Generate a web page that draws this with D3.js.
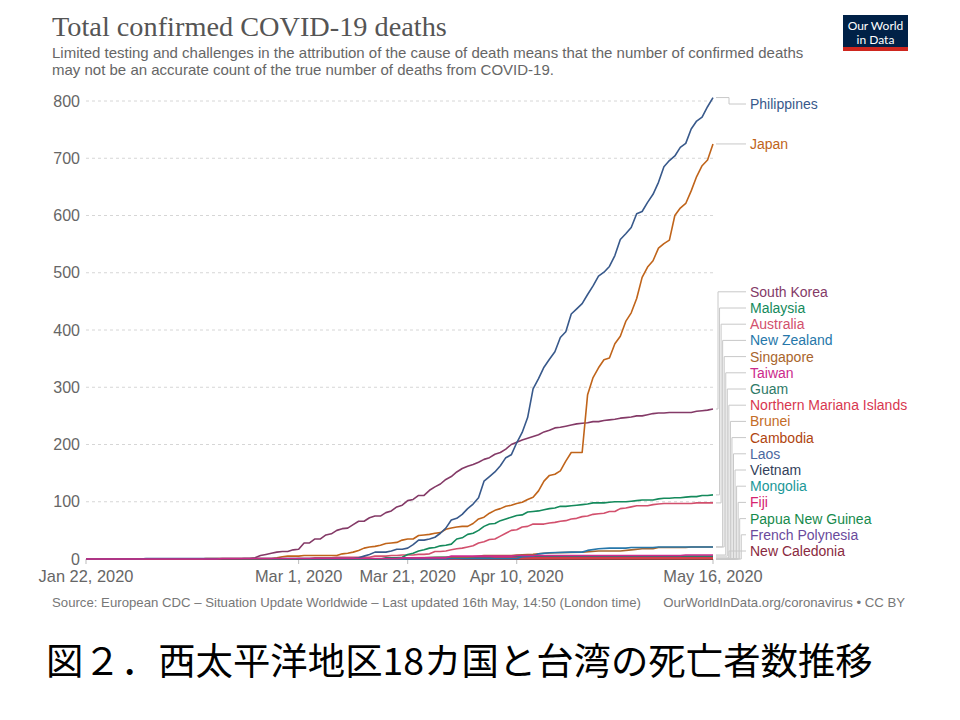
<!DOCTYPE html>
<html>
<head>
<meta charset="utf-8">
<script src="https://cdn.jsdelivr.net/npm/d3@7"></script>
<style>
  body { margin: 0; background: #fff; }
  svg { display: block; }
</style>
</head>
<body>
<div id="chart"></div>
<script>
// data (deaths, 2020)
const countries = [
  "Philippines", "Japan", "South Korea", "Malaysia", "Australia", "New Zealand",
  "Singapore", "Taiwan", "Guam", "Northern Mariana Islands", "Brunei", "Cambodia",
  "Laos", "Vietnam", "Mongolia", "Fiji", "Papua New Guinea", "French Polynesia",
  "New Caledonia"
];

const xTicks = ["2020-01-22", "2020-03-01", "2020-03-21", "2020-04-10", "2020-05-16"];
const yTicks = [0, 100, 200, 300, 400, 500, 600, 700, 800];

// daily runs: start date + values
const philippinesDaily = [
  1, 2, 5, 8, 12, 12, 12, 14, 17, 17, 19, 25, 33, 33, 35, 38, 45, 54, 68, 71, 78,
  88, 96, 107, 136, 144, 152, 163, 177, 182, 203, 221, 247, 297, 315, 335, 349, 362, 387, 397,
  428, 437, 446, 462, 477, 494, 501, 511, 530, 558, 568,
  579, 603, 607, 623, 637, 658, 685, 696, 704, 719, 726, 751, 765, 772, 790, 806
];
const japanDaily = [
  2, 4, 5, 5,
  5, 6, 6, 6, 6, 6, 6, 6, 9, 10, 12, 15, 19, 21, 22, 24, 27, 28, 29, 33, 35, 35, 41, 42, 43,
  45, 46, 52, 54, 56, 57,
  57, 62, 70, 73, 80, 85, 88, 92, 94, 97, 99, 104, 108, 119, 136, 146, 148, 154, 171, 186,
  186, 186, 287, 317, 334, 348, 351, 376, 389, 415,
  430, 455, 492, 510, 521, 543, 551, 557, 600, 613, 621, 643, 668, 687, 697, 725
];
const southKoreaDaily = [
  1, 1, 2, 6, 8, 10, 12, 13, 13, 16,
  17, 28, 28, 35, 35, 42, 44, 50, 53, 54, 60, 66, 66, 72, 75, 75, 81, 84, 91, 94, 102, 104,
  111, 111, 120, 126, 131, 139, 144, 152, 158,
  162, 165, 169, 174, 177, 183, 186, 192, 200, 204, 208, 211, 214, 217, 222, 225, 229, 230,
  232, 234, 236, 237, 238, 240, 240, 242, 243, 244, 246, 247,
  248, 250, 250, 252, 254, 255, 255, 256, 256, 256, 256, 256, 258, 259, 260, 262
];
const malaysiaDaily = [
  2, 2, 2, 3, 8, 10, 14, 16, 19, 20, 23, 24, 26, 35, 37,
  43, 45, 50, 57, 61, 62, 67, 70, 73, 76, 77, 82, 83, 84, 86, 88, 89, 92, 92, 93, 94, 95,
  96, 98, 98, 98, 99, 100, 100, 100,
  101, 102, 103, 103, 103, 105, 106, 106, 107, 107, 108, 109, 109, 111, 111, 112
];
const australiaDaily = [
  1, 1, 1, 2, 2, 2, 2, 3, 3, 3, 3, 3, 3, 3, 5, 5, 5, 6, 6, 7, 7, 7, 8, 8, 9, 13, 13, 14,
  16, 18, 19,
  21, 23, 28, 30, 34, 35, 40, 45, 50, 51, 56, 57, 61, 61, 61, 63, 64, 66, 67, 70, 71, 74,
  75, 78, 79, 80, 83, 83, 88, 89,
  91, 93, 93, 93, 95, 96, 97, 97, 97, 97, 97, 97, 98, 98, 98, 98
];

// sparse runs: [date, value] where the count changes
const newZealand = [["2020-01-22", 0], ["2020-03-28", 0], ["2020-03-29", 1], ["2020-04-10", 1],
  ["2020-04-11", 4], ["2020-04-13", 5], ["2020-04-14", 9], ["2020-04-16", 11], ["2020-04-20", 12],
  ["2020-04-22", 12], ["2020-04-23", 15], ["2020-04-25", 18], ["2020-04-27", 19], ["2020-04-30", 19],
  ["2020-05-01", 20], ["2020-05-05", 20], ["2020-05-06", 21], ["2020-05-16", 21]];
const singapore = [["2020-01-22", 0], ["2020-03-20", 0], ["2020-03-21", 2], ["2020-04-01", 3],
  ["2020-04-04", 6], ["2020-04-09", 6], ["2020-04-10", 7], ["2020-04-13", 8], ["2020-04-15", 10],
  ["2020-04-17", 11], ["2020-04-22", 12], ["2020-04-25", 14], ["2020-04-29", 14], ["2020-05-01", 16],
  ["2020-05-03", 18], ["2020-05-05", 18], ["2020-05-06", 20], ["2020-05-11", 20], ["2020-05-12", 21],
  ["2020-05-16", 21]];
const taiwan = [["2020-01-22", 0], ["2020-02-15", 0], ["2020-02-16", 1], ["2020-03-19", 1],
  ["2020-03-20", 2], ["2020-03-28", 2], ["2020-03-29", 5], ["2020-04-09", 5], ["2020-04-10", 6],
  ["2020-05-10", 6], ["2020-05-11", 7], ["2020-05-16", 7]];
const guam = [["2020-01-22", 0], ["2020-03-21", 0], ["2020-03-22", 1], ["2020-03-24", 2],
  ["2020-03-26", 3], ["2020-04-01", 4], ["2020-04-05", 4], ["2020-04-06", 5], ["2020-05-16", 5]];
const northernMariana = [["2020-01-22", 0], ["2020-03-30", 0], ["2020-03-31", 1], ["2020-04-01", 2],
  ["2020-05-16", 2]];
const brunei = [["2020-01-22", 0], ["2020-03-27", 0], ["2020-03-28", 1], ["2020-05-16", 1]];
const noDeaths = [["2020-01-22", 0], ["2020-05-16", 0]];

const colors = {
  "Philippines": "#38598b", "Japan": "#c0641a", "South Korea": "#843a67", "Malaysia": "#158a5c",
  "Australia": "#d2506d", "New Zealand": "#2677aa", "Singapore": "#a9652c", "Taiwan": "#cc2a8c",
  "Guam": "#2f7a68", "Northern Mariana Islands": "#d8374f", "Brunei": "#c46d27", "Cambodia": "#b0450f",
  "Laos": "#4b68a0", "Vietnam": "#343f5b", "Mongolia": "#1b9898", "Fiji": "#d6236f",
  "Papua New Guinea": "#168a4c", "French Polynesia": "#6a4a9c", "New Caledonia": "#8a2a40"
};

const parse = d3.timeParse("%Y-%m-%d");
const daily = (start, values) =>
  values.map((v, i) => [d3.timeDay.offset(parse(start), i), v]);
const sparse = pairs => pairs.map(([d, v]) => [parse(d), v]);

const seriesData = {
  "Philippines": [...sparse([["2020-01-22", 0], ["2020-02-01", 0], ["2020-02-02", 1], ["2020-03-10", 1]]),
    ...daily("2020-03-11", philippinesDaily)],
  "Japan": [...sparse([["2020-01-22", 0], ["2020-02-12", 0], ["2020-02-13", 1], ["2020-02-25", 1]]),
    ...daily("2020-02-26", japanDaily)],
  "South Korea": [...sparse([["2020-01-22", 0], ["2020-02-19", 0]]), ...daily("2020-02-20", southKoreaDaily)],
  "Malaysia": [...sparse([["2020-01-22", 0], ["2020-03-16", 0]]), ...daily("2020-03-17", malaysiaDaily)],
  "Australia": [...sparse([["2020-01-22", 0], ["2020-02-29", 0]]), ...daily("2020-03-01", australiaDaily)],
  "New Zealand": sparse(newZealand),
  "Singapore": sparse(singapore),
  "Taiwan": sparse(taiwan),
  "Guam": sparse(guam),
  "Northern Mariana Islands": sparse(northernMariana),
  "Brunei": sparse(brunei),
  "Cambodia": sparse(noDeaths),
  "Laos": sparse(noDeaths),
  "Vietnam": sparse(noDeaths),
  "Mongolia": sparse(noDeaths),
  "Fiji": sparse(noDeaths),
  "Papua New Guinea": sparse(noDeaths),
  "French Polynesia": sparse(noDeaths),
  "New Caledonia": sparse(noDeaths)
};

// drawing
const width = 960, height = 720;
const svg = d3.select("#chart").append("svg").attr("width", width).attr("height", height)
  .style("font-family", "'Liberation Sans', Arial, sans-serif");

const x = d3.scaleTime().domain([parse("2020-01-22"), parse("2020-05-16")]).range([86, 713]);
const y = d3.scaleLinear().domain([0, 800]).range([559, 101]);

// title and subtitle
svg.append("text").attr("x", 52).attr("y", 36)
  .style("font-family", "'Liberation Serif', 'DejaVu Serif', serif").style("font-size", "28.3px")
  .attr("fill", "#555").text("Total confirmed COVID-19 deaths");
const subtitle = [
  "Limited testing and challenges in the attribution of the cause of death means that the number of confirmed deaths",
  "may not be an accurate count of the true number of deaths from COVID-19."
];
svg.append("g").selectAll("text").data(subtitle).enter().append("text")
  .attr("x", 52).attr("y", (d, i) => 58 + i * 17)
  .style("font-size", "15px").attr("fill", "#666").text(d => d);

// logo
const logo = svg.append("g");
logo.append("rect").attr("x", 843).attr("y", 15).attr("width", 65).attr("height", 36).attr("fill", "#002147");
logo.append("rect").attr("x", 843).attr("y", 47).attr("width", 65).attr("height", 4).attr("fill", "#ce261e");
logo.selectAll("text").data(["Our World", "in Data"]).enter().append("text")
  .attr("x", 875.5).attr("y", (d, i) => 30 + i * 14).attr("text-anchor", "middle")
  .style("font-family", "Lato, 'Liberation Sans', sans-serif").style("font-size", "12px")
  .attr("fill", "#fff").text(d => d);

// y grid and labels
const yAxis = svg.append("g");
yAxis.selectAll("line").data(yTicks.filter(d => d > 0)).enter().append("line")
  .attr("x1", 86).attr("x2", 713).attr("y1", d => y(d)).attr("y2", d => y(d))
  .attr("stroke", "#d6d6d6").attr("stroke-dasharray", "3,3");
yAxis.selectAll("text").data(yTicks).enter().append("text")
  .attr("x", 80).attr("y", d => y(d)).attr("dy", "0.35em").attr("text-anchor", "end")
  .style("font-size", "16px").attr("fill", "#666").text(d => d);

// x ticks and labels
const fmt = d3.timeFormat("%b %-d, %Y");
const xAxis = svg.append("g");
xAxis.selectAll("line").data(xTicks.map(parse)).enter().append("line")
  .attr("x1", d => x(d)).attr("x2", d => x(d)).attr("y1", 559).attr("y2", 564)
  .attr("stroke", "#bbb");
xAxis.selectAll("text").data(xTicks.map(parse)).enter().append("text")
  .attr("x", d => x(d)).attr("y", 582).attr("text-anchor", "middle")
  .style("font-size", "16.4px").attr("fill", "#666").text(d => fmt(d));

// lines: zero series first, Taiwan on top like the original
const drawOrder = [
  "Cambodia", "Laos", "Vietnam", "Mongolia", "Fiji", "Papua New Guinea", "French Polynesia",
  "New Caledonia", "Brunei", "Northern Mariana Islands", "Guam", "Singapore", "New Zealand",
  "Australia", "Malaysia", "South Korea", "Japan", "Philippines", "Taiwan"
];
const line = d3.line().x(d => x(d[0])).y(d => y(d[1]));
svg.append("g").selectAll("path").data(drawOrder).enter().append("path")
  .attr("d", c => line(seriesData[c]))
  .attr("fill", "none").attr("stroke", c => colors[c]).attr("stroke-width", 1.6)
  .attr("stroke-linejoin", "round");

// labels: push up from the bottom so they don't overlap
const spacing = 16.2;
const labels = countries.map(c => {
  const pts = seriesData[c];
  return { name: c, target: y(pts[pts.length - 1][1]) };
});
let prev = 551 + spacing;
for (let i = labels.length - 1; i >= 0; i--) {
  labels[i].ly = Math.min(labels[i].target, prev - spacing, 551);
  prev = labels[i].ly;
}
labels.forEach(l => { l.ly = Math.max(l.ly, y(800) + 3); });
const bunch = labels.filter(l => Math.abs(l.ly - l.target) > 8 && l.ly > 200);
labels.forEach(l => {
  const k = bunch.indexOf(l);
  l.stepX = k >= 0 ? 718 + k * 1.55 : 729;
});

const conn = svg.append("g");
conn.selectAll("path").data(labels).enter().append("path")
  .attr("d", l => `M716,${l.target}H${l.stepX}V${l.ly}H746`)
  .attr("fill", "none").attr("stroke", "#c8c8c8").attr("stroke-width", 1);
svg.append("g").selectAll("text").data(labels).enter().append("text")
  .attr("x", 750).attr("y", l => l.ly).attr("dy", "0.35em")
  .style("font-size", "14px").attr("fill", l => colors[l.name]).text(l => l.name);

// footer
svg.append("text").attr("x", 52).attr("y", 607).style("font-size", "13.2px").attr("fill", "#777")
  .text("Source: European CDC \u2013 Situation Update Worldwide \u2013 Last updated 16th May, 14:50 (London time)");
svg.append("text").attr("x", 905).attr("y", 607).attr("text-anchor", "end").style("font-size", "13.2px")
  .attr("fill", "#777").text("OurWorldInData.org/coronavirus \u2022 CC BY");

// caption
svg.append("text").attr("x", 46).attr("y", 675)
  .style("font-family", "'Noto Sans CJK JP', sans-serif").style("font-size", "37.4px")
  .attr("fill", "#000").text("図２．西太平洋地区18カ国と台湾の死亡者数推移");
</script>
</body>
</html>
